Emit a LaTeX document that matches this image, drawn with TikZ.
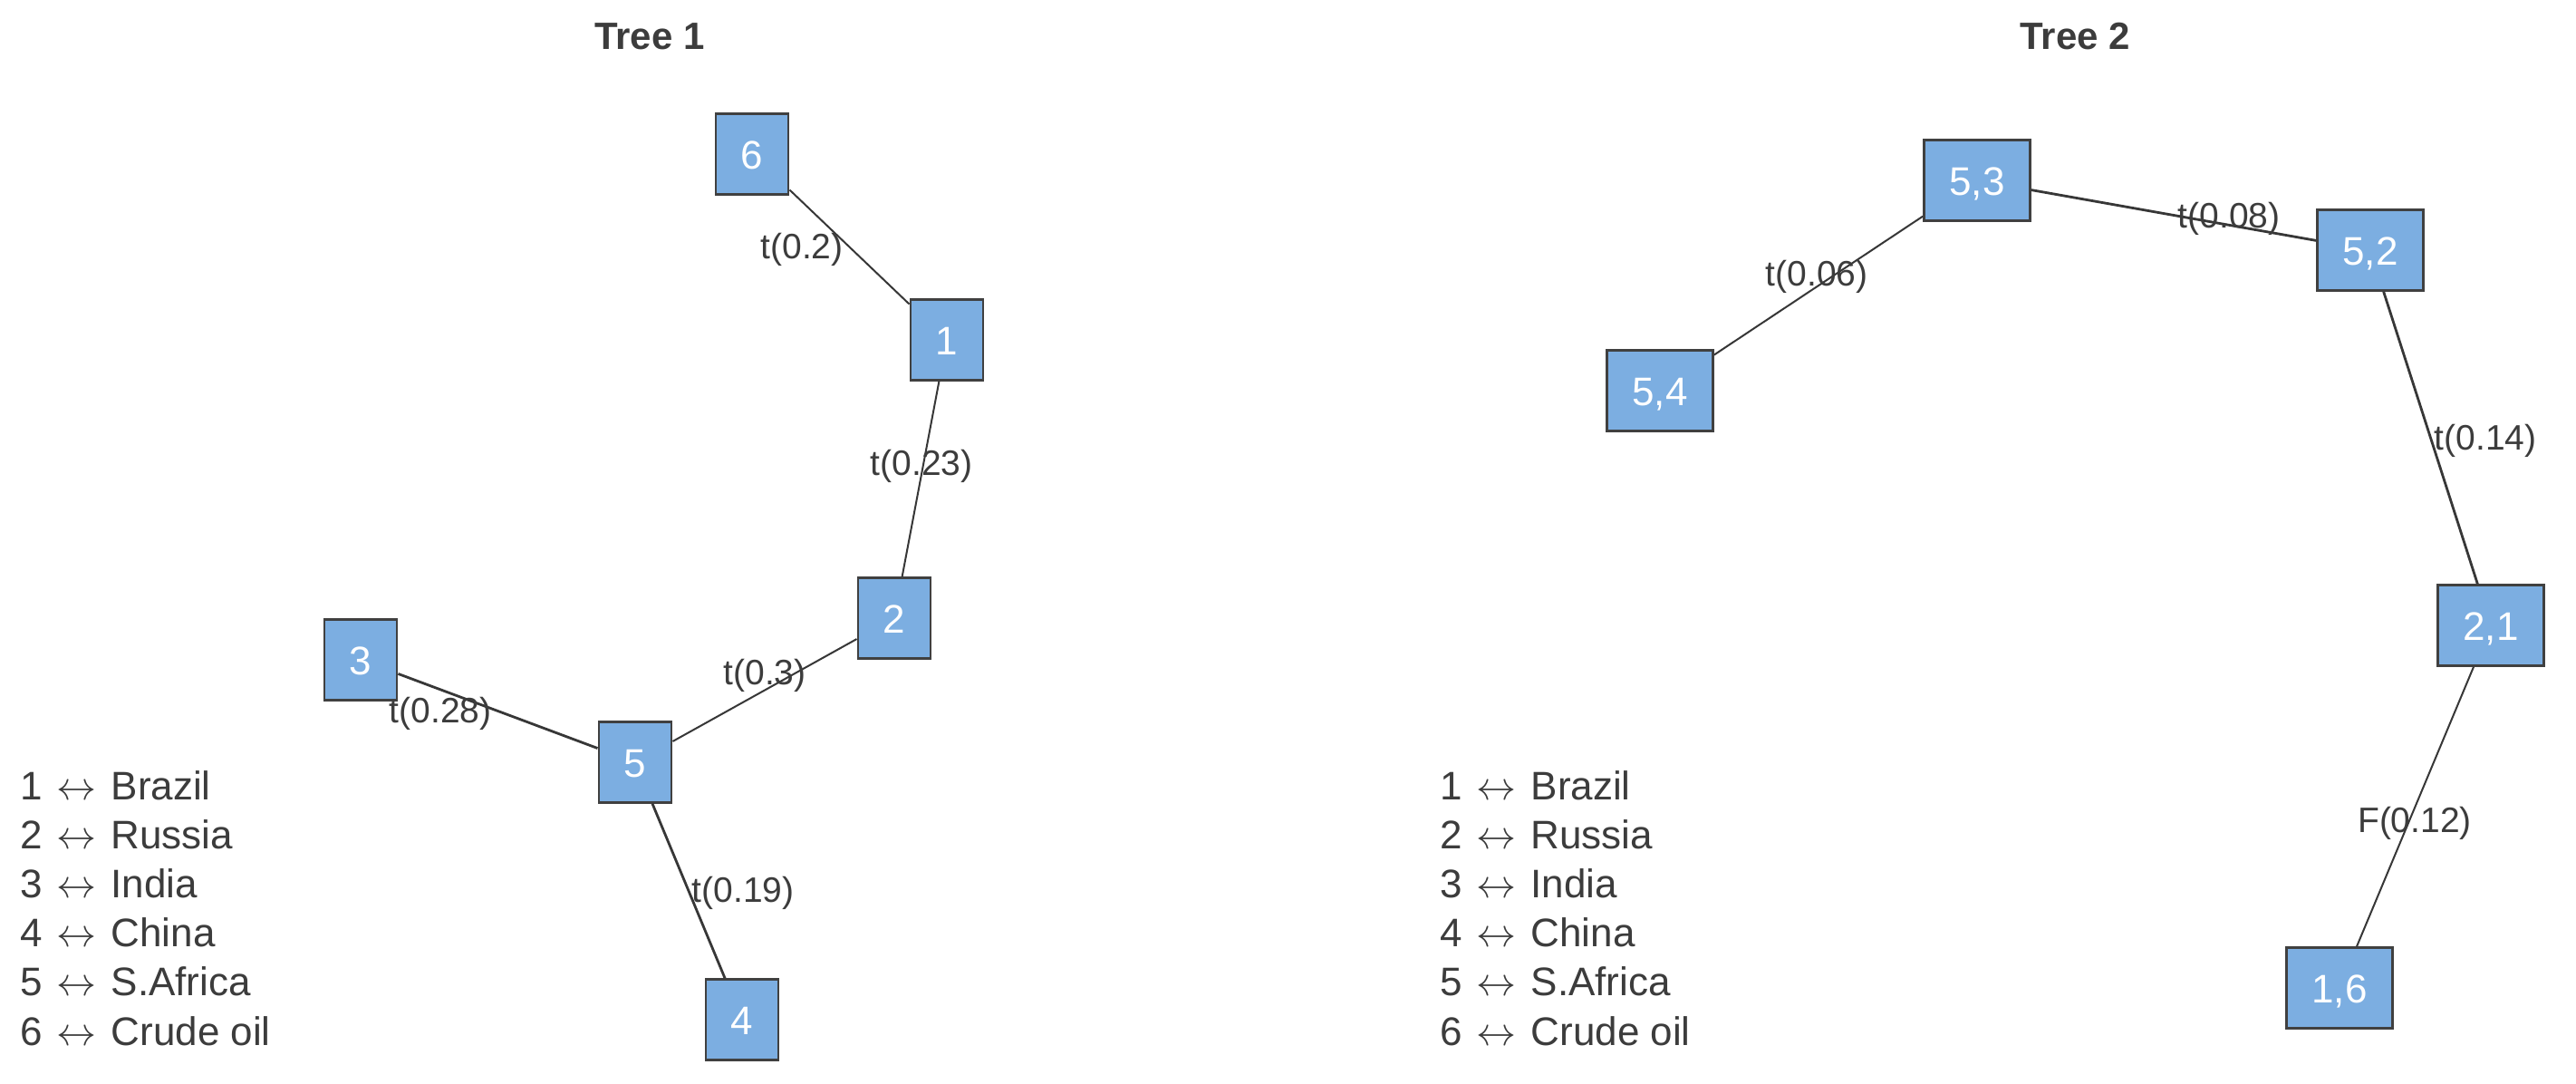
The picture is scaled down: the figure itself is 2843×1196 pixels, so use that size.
\RequirePackage{fix-cm}
\documentclass[tikz,border=0pt]{standalone}
\usepackage{fontspec}
\setmainfont{Liberation Sans}
\definecolor{boxfill}{RGB}{124,174,225}
\definecolor{boxline}{RGB}{64,64,64}
\definecolor{edgecol}{RGB}{55,55,55}
\definecolor{txtcol}{RGB}{60,60,60}
\tikzset{
  vbox/.style={draw=boxline, line width=2.5pt, fill=boxfill, text=white,
    font=\fontsize{44}{52}\selectfont, inner xsep=28pt, inner ysep=0pt,
    text height=32pt, text depth=0pt, minimum height=89pt},
  elabel/.style={text=txtcol, font=\fontsize{39}{46}\selectfont, inner sep=0pt},
  edge/.style={draw=edgecol, line width=2pt},
  edgeb/.style={draw=edgecol, line width=2.8pt},
  legend/.style={anchor=base west, text=txtcol, font=\fontsize{44}{52}\selectfont, inner sep=0pt},
  ttl/.style={anchor=base, text=txtcol, font=\fontsize{42}{50}\selectfont\bfseries, inner sep=0pt}
}
\newcommand{\arr}{\hspace{16pt}$\leftrightarrow$\hspace{16pt}}
\begin{document}
\begin{tikzpicture}[x=1pt,y=-1pt]
\path[use as bounding box, fill=white] (0,0) rectangle (2843,1196);
% titles
\node[ttl] (t1) at (717,55) {Tree 1};
\node[ttl] (t2) at (2290,55) {Tree 2};
% Tree 1 nodes
\node[vbox] (n6) at (830,170) {6};
\node[vbox] (n1) at (1045,375) {1};
\node[vbox] (n2) at (987,682) {2};
\node[vbox] (n3) at (398,728) {3};
\node[vbox] (n5) at (701,841) {5};
\node[vbox] (n4) at (819,1125) {4};
% Tree 1 edges
\draw[edge] (n6) -- (n1);
\draw[edge] (n1) -- (n2);
\draw[edge] (n5) -- (n2);
\draw[edgeb] (n3) -- (n5);
\draw[edgeb] (n5) -- (n4);
% Tree 1 labels
\node[elabel] (l61) at (885,275) {t(0.2)};
\node[elabel] (l12) at (1017,514) {t(0.23)};
\node[elabel] (l52) at (844,745) {t(0.3)};
\node[elabel] (l35) at (486,787) {t(0.28)};
\node[elabel] (l54) at (820,985) {t(0.19)};
% Tree 2 nodes
\node[vbox] (m53) at (2182,199) {5,3};
\node[vbox] (m52) at (2616,276) {5,2};
\node[vbox] (m54) at (1832,431) {5,4};
\node[vbox] (m21) at (2749,690) {2,1};
\node[vbox] (m16) at (2582,1090) {1,6};
% Tree 2 edges
\draw[edge] (m54) -- (m53);
\draw[edgeb] (m53) -- (m52);
\draw[edgeb] (m52) -- (m21);
\draw[edge] (m21) -- (m16);
% Tree 2 labels
\node[elabel] (k1) at (2005,305) {t(0.06)};
\node[elabel] (k2) at (2460,241) {t(0.08)};
\node[elabel] (k3) at (2743,486) {t(0.14)};
\node[elabel] (k4) at (2665,908) {F(0.12)};
% legends
\foreach \i/\nm [count=\k from 0] in {1/Brazil,2/Russia,3/India,4/China,5/S.Africa,6/Crude oil}{
  \node[legend] (la\i) at (22,882+54.2*\k) {\i\arr\nm};
  \node[legend] (lb\i) at (1589,882+54.2*\k) {\i\arr\nm};
}
\end{tikzpicture}
\end{document}
